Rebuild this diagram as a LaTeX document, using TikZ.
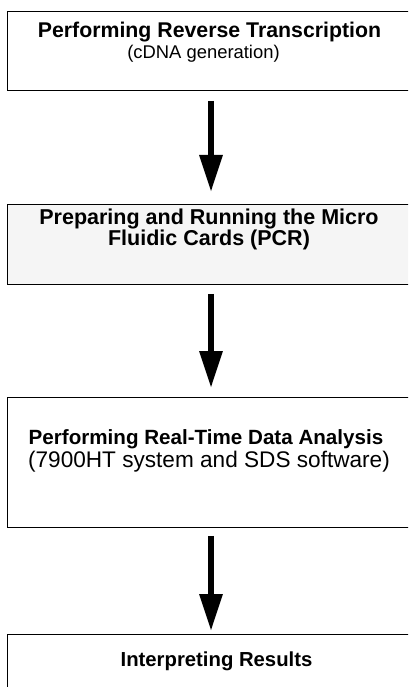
\documentclass[tikz,border=0pt]{standalone}
\usepackage{fontspec}
\setmainfont{Liberation Sans}
\usetikzlibrary{arrows.meta}
\tikzset{
  stepbox/.style={draw=black, line width=0.9pt, rectangle, minimum width=407pt, inner sep=0pt},
  txt/.style={anchor=base, inner sep=0pt},
  bigarrow/.style={line width=6pt, -{Triangle[width=22pt,length=37pt]}}
}
\begin{document}
\begin{tikzpicture}[x=1pt,y=-1pt]
\useasboundingbox (0,0) rectangle (408,687);
\clip (0,0) rectangle (408,687);
% boxes
\node[stepbox, minimum height=79pt, anchor=north] (b1) at (211,11) {};
\node[stepbox, minimum height=80pt, anchor=north, fill=black!4] (b2) at (211,204) {};
\node[stepbox, minimum height=130pt, anchor=north] (b3) at (211,397) {};
\node[stepbox, minimum height=100pt, anchor=north] (b4) at (211,634) {};
% texts
\node[txt, font=\fontsize{21.3}{24}\selectfont\bfseries] (t1a) at (209.5,38) {Performing Reverse Transcription};
\node[txt, font=\fontsize{18.4}{22}\selectfont] (t1b) at (203.5,59) {(cDNA generation)};
\node[anchor=north, inner sep=0pt, align=center, font=\fontsize{21.5}{17}\selectfont\bfseries] (t2) at (209,209) {Preparing and Running the Micro\\Fluidic Cards (PCR)};
\node[txt, font=\fontsize{20.6}{24}\selectfont\bfseries] (t3a) at (206,444) {Performing Real-Time Data Analysis};
\node[txt, font=\fontsize{22.6}{26}\selectfont] (t3b) at (209,467) {(7900HT system and SDS software)};
\node[txt, font=\fontsize{20.3}{24}\selectfont\bfseries] (t4a) at (216.5,666) {Interpreting Results};
% arrows
\draw[bigarrow] ([yshift=-10pt]b1.south) -- ([yshift=12pt]b2.north);
\draw[bigarrow] ([yshift=-9pt]b2.south) -- ([yshift=9pt]b3.north);
\draw[bigarrow] ([yshift=-8pt]b3.south) -- ([yshift=3pt]b4.north);
\end{tikzpicture}
\end{document}
